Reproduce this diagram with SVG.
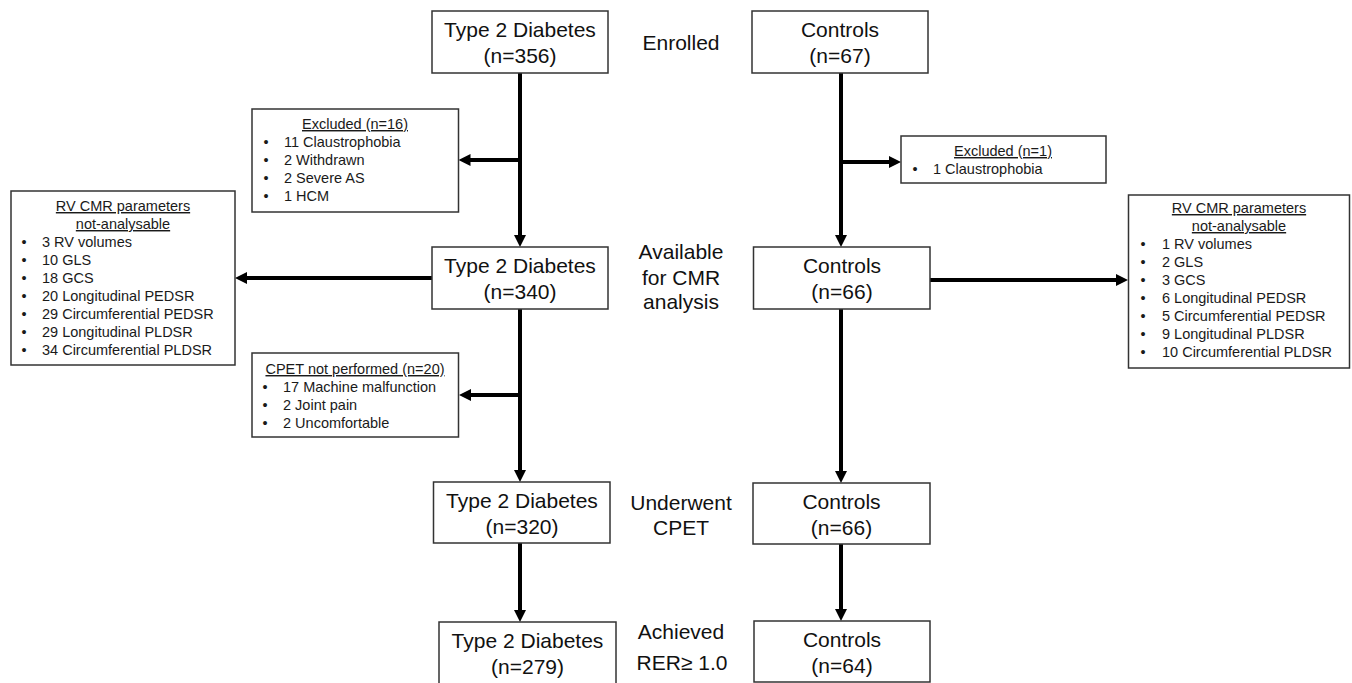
<svg xmlns="http://www.w3.org/2000/svg" width="1352" height="683" viewBox="0 0 1352 683">
<style>
.box{fill:#fff;stroke:#333;stroke-width:1.5}
.big{font-family:"Liberation Sans",Arial,sans-serif;font-size:21px;fill:#111;text-anchor:middle}
.sm{font-family:"Liberation Sans",Arial,sans-serif;font-size:14.5px;fill:#1a1a1a}
.ttl{text-anchor:middle;text-decoration:underline}
.bul{text-anchor:middle}
.conn{stroke:#000;stroke-width:4;fill:none;marker-end:url(#ah)}
</style>
<defs>
<marker id="ah" viewBox="0 0 12 12" refX="1" refY="6" markerWidth="12" markerHeight="12" markerUnits="userSpaceOnUse" orient="auto">
<path d="M0,0 L12,6 L0,12 z" fill="#000"/>
</marker>
</defs>
<rect width="1352" height="683" fill="#fff"/>

<g id="connectors">
<line class="conn" x1="520" y1="73" x2="520" y2="236"/>
<line class="conn" x1="520" y1="160" x2="469.5" y2="160"/>
<line class="conn" x1="520" y1="309" x2="520" y2="471"/>
<line class="conn" x1="520" y1="395" x2="470" y2="395"/>
<line class="conn" x1="520" y1="543" x2="520" y2="611"/>
<line class="conn" x1="432" y1="278" x2="246" y2="278"/>
<line class="conn" x1="841" y1="73" x2="841" y2="236"/>
<line class="conn" x1="841" y1="162" x2="890" y2="162"/>
<line class="conn" x1="930" y1="280" x2="1117" y2="280"/>
<line class="conn" x1="841" y1="309" x2="841" y2="472"/>
<line class="conn" x1="841" y1="544" x2="841" y2="610"/>
</g>

<g id="t2d-enrolled">
<rect class="box" x="432" y="11" width="176" height="62"/>
<text class="big" x="520" y="36.5">Type 2 Diabetes</text>
<text class="big" x="520" y="62.5">(n=356)</text>
</g>
<g id="ctrl-enrolled">
<rect class="box" x="752" y="11" width="176" height="62"/>
<text class="big" x="840" y="36.5">Controls</text>
<text class="big" x="840" y="62.5">(n=67)</text>
</g>

<g id="label-enrolled">
<text class="big" x="681" y="50">Enrolled</text>
</g>
<g id="label-available">
<text class="big" x="681" y="259">Available</text>
<text class="big" x="681" y="284.5">for CMR</text>
<text class="big" x="681" y="309">analysis</text>
</g>
<g id="label-cpet">
<text class="big" x="681" y="510">Underwent</text>
<text class="big" x="681" y="535">CPET</text>
</g>
<g id="label-rer">
<text class="big" x="681" y="639">Achieved</text>
<text class="big" x="682" y="670">RER≥ 1.0</text>
</g>

<g id="excluded-t2d">
<rect class="box" x="252" y="109" width="206.5" height="103"/>
<text class="sm ttl" x="355" y="129">Excluded (n=16)</text>
<text class="sm bul" x="266" y="147">•</text><text class="sm" x="284" y="147">11 Claustrophobia</text>
<text class="sm bul" x="266" y="165">•</text><text class="sm" x="284" y="165">2 Withdrawn</text>
<text class="sm bul" x="266" y="183">•</text><text class="sm" x="284" y="183">2 Severe AS</text>
<text class="sm bul" x="266" y="201">•</text><text class="sm" x="284" y="201">1 HCM</text>
</g>

<g id="excluded-ctrl">
<rect class="box" x="901" y="136" width="205" height="47"/>
<text class="sm ttl" x="1003" y="156">Excluded (n=1)</text>
<text class="sm bul" x="915" y="174">•</text><text class="sm" x="933" y="174">1 Claustrophobia</text>
</g>

<g id="rv-t2d">
<rect class="box" x="11" y="191" width="224" height="174"/>
<text class="sm ttl" x="123" y="211">RV CMR parameters</text>
<text class="sm ttl" x="123" y="229">not-analysable</text>
<text class="sm bul" x="24" y="247">•</text><text class="sm" x="42" y="247">3 RV volumes</text>
<text class="sm bul" x="24" y="265">•</text><text class="sm" x="42" y="265">10 GLS</text>
<text class="sm bul" x="24" y="283">•</text><text class="sm" x="42" y="283">18 GCS</text>
<text class="sm bul" x="24" y="301">•</text><text class="sm" x="42" y="301">20 Longitudinal PEDSR</text>
<text class="sm bul" x="24" y="319">•</text><text class="sm" x="42" y="319">29 Circumferential PEDSR</text>
<text class="sm bul" x="24" y="337">•</text><text class="sm" x="42" y="337">29 Longitudinal PLDSR</text>
<text class="sm bul" x="24" y="355">•</text><text class="sm" x="42" y="355">34 Circumferential PLDSR</text>
</g>

<g id="t2d-cmr">
<rect class="box" x="432" y="247" width="176" height="62"/>
<text class="big" x="520" y="272.5">Type 2 Diabetes</text>
<text class="big" x="520" y="298.5">(n=340)</text>
</g>
<g id="ctrl-cmr">
<rect class="box" x="753.5" y="247" width="176.5" height="62"/>
<text class="big" x="842" y="272.5">Controls</text>
<text class="big" x="842" y="298.5">(n=66)</text>
</g>

<g id="rv-ctrl">
<rect class="box" x="1128.5" y="195" width="221" height="173"/>
<text class="sm ttl" x="1239" y="213">RV CMR parameters</text>
<text class="sm ttl" x="1239" y="231">not-analysable</text>
<text class="sm bul" x="1143" y="249">•</text><text class="sm" x="1162" y="249">1 RV volumes</text>
<text class="sm bul" x="1143" y="267">•</text><text class="sm" x="1162" y="267">2 GLS</text>
<text class="sm bul" x="1143" y="285">•</text><text class="sm" x="1162" y="285">3 GCS</text>
<text class="sm bul" x="1143" y="303">•</text><text class="sm" x="1162" y="303">6 Longitudinal PEDSR</text>
<text class="sm bul" x="1143" y="321">•</text><text class="sm" x="1162" y="321">5 Circumferential PEDSR</text>
<text class="sm bul" x="1143" y="339">•</text><text class="sm" x="1162" y="339">9 Longitudinal PLDSR</text>
<text class="sm bul" x="1143" y="357">•</text><text class="sm" x="1162" y="357">10 Circumferential PLDSR</text>
</g>

<g id="cpet-not-performed">
<rect class="box" x="252" y="353" width="206.5" height="84"/>
<text class="sm ttl" x="355" y="374">CPET not performed (n=20)</text>
<text class="sm bul" x="265" y="392">•</text><text class="sm" x="283" y="392">17 Machine malfunction</text>
<text class="sm bul" x="265" y="410">•</text><text class="sm" x="283" y="410">2 Joint pain</text>
<text class="sm bul" x="265" y="428">•</text><text class="sm" x="283" y="428">2 Uncomfortable</text>
</g>

<g id="t2d-cpet">
<rect class="box" x="433.5" y="482" width="176.5" height="61"/>
<text class="big" x="522" y="507.5">Type 2 Diabetes</text>
<text class="big" x="522" y="533.5">(n=320)</text>
</g>
<g id="ctrl-cpet">
<rect class="box" x="753" y="483" width="177" height="61"/>
<text class="big" x="841.5" y="508.5">Controls</text>
<text class="big" x="841.5" y="534.5">(n=66)</text>
</g>

<g id="t2d-rer">
<rect class="box" x="439" y="622" width="177" height="62"/>
<text class="big" x="527.5" y="647.5">Type 2 Diabetes</text>
<text class="big" x="527.5" y="673.5">(n=279)</text>
</g>
<g id="ctrl-rer">
<rect class="box" x="754" y="621" width="176" height="61"/>
<text class="big" x="842" y="646.5">Controls</text>
<text class="big" x="842" y="672.5">(n=64)</text>
</g>
</svg>
